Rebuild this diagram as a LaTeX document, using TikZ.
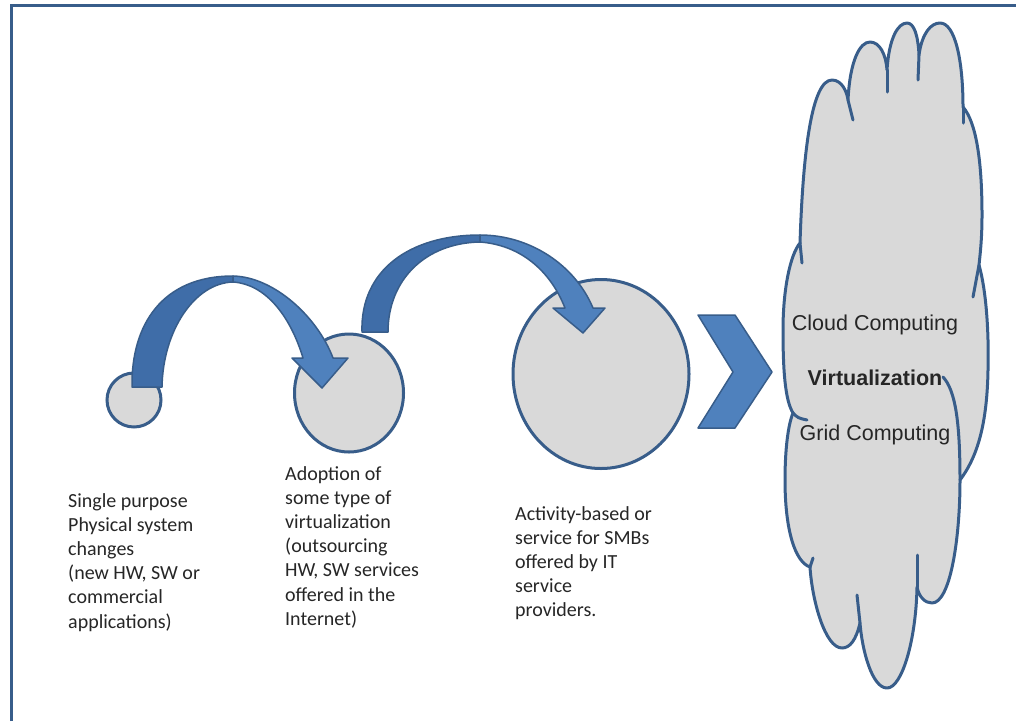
\documentclass[tikz,border=0pt]{standalone}
\usepackage{fontspec}
\setmainfont{Carlito}
\newfontfamily\cloudfont{Liberation Sans}
\usetikzlibrary{shapes.geometric}

\definecolor{frameblue}{HTML}{385D8A}
\definecolor{arrowfront}{HTML}{4F81BD}
\definecolor{arrowback}{HTML}{3F6DA8}
\definecolor{bubblegray}{HTML}{D9D9D9}

\tikzset{
	bubble/.style={ellipse, draw=frameblue, fill=bubblegray, line width=3pt, inner sep=0pt},
	backpart/.style={fill=arrowback, draw=frameblue, line width=1.5pt, line join=round},
	frontpart/.style={fill=arrowfront, draw=frameblue, line width=1.5pt, line join=round},
	cloudline/.style={draw=frameblue, line width=3pt, line join=round, line cap=round},
	caption/.style={anchor=north west, align=left, inner sep=0pt, text=black!85, font=\fontsize{20}{24.2}\selectfont},
	cloudtext/.style={anchor=base, inner sep=0pt, text=black!85, font=\cloudfont\fontsize{21.5}{25}\selectfont}
}

\begin{document}
\begin{tikzpicture}[x=1pt, y=-1pt]
	\useasboundingbox (0,0) rectangle (1016,721);

	% frame on top and left
	\draw[frameblue, line width=3.5pt] (11.5,721) -- (11.5,5.5) -- (1016,5.5);

	% the three stages
	\node[bubble, minimum width=54pt, minimum height=54pt] (single) at (134,400) {};
	\node[bubble, minimum width=109pt, minimum height=118pt] (adopt) at (349,393) {};
	\node[bubble, minimum width=176pt, minimum height=189pt] (service) at (601,374) {};

	% first curved arrow
	\filldraw[backpart] (132,387) .. controls (131,325) and (162,276) .. (233,276) -- (233,282) .. controls (195,283) and (163,330) .. (162,387) -- cycle;
	\filldraw[frontpart] (233,276) .. controls (275,277) and (318,318) .. (333,358) -- (348,358) -- (322,388) -- (292,358) -- (303,358) .. controls (290,315) and (265,284) .. (233,282) -- cycle;

	% second curved arrow
	\filldraw[backpart] (362,332) .. controls (360,270) and (410,235) .. (480,235) -- (480,242) .. controls (425,243) and (388,280) .. (388,332) -- cycle;
	\filldraw[frontpart] (480,235) .. controls (530,235) and (575,265) .. (593,308) -- (605,308) -- (583,333) -- (553,308) -- (565,308) .. controls (550,270) and (520,245) .. (480,242) -- cycle;

	% chevron
	\filldraw[frontpart] (698,315) -- (735,315) -- (772,372) -- (735,428) -- (698,428) -- (733,372) -- cycle;

	% cloud, lobe by lobe
	\filldraw[cloudline, fill=bubblegray]
		(800,243) .. controls (803,150) and (812,80) .. (832,80) .. controls (842,80) and (847,92) .. (848,100)
		.. controls (850,60) and (860,42) .. (870,42) .. controls (880,42) and (886,55) .. (887,70)
		.. controls (889,38) and (898,23) .. (907,23) .. controls (914,23) and (918,35) .. (919,55)
		.. controls (922,33) and (931,23) .. (940,23) .. controls (955,23) and (963,60) .. (963,107)
		.. controls (976,122) and (982,160) .. (982,215) .. controls (982,240) and (980,255) .. (979,265)
		.. controls (986,290) and (989,330) .. (988,370) .. controls (987,430) and (975,460) .. (960,480)
		.. controls (960,540) and (950,603) .. (932,603) .. controls (925,603) and (919,597) .. (917,587)
		.. controls (916,640) and (902,688) .. (887,688) .. controls (872,688) and (862,650) .. (860,623)
		.. controls (856,640) and (850,648) .. (842,648) .. controls (825,648) and (812,600) .. (810,567)
		.. controls (795,562) and (785,530) .. (785,480) .. controls (785,450) and (788,425) .. (793,413)
		.. controls (785,400) and (783,370) .. (783,330) .. controls (783,290) and (790,255) .. (800,243)
		-- cycle;
	% inner strokes of the cloud
	\draw[cloudline] (848,100) .. controls (850,108) .. (853,120);
	\draw[cloudline] (887,70) -- (887,92);
	\draw[cloudline] (919,55) -- (918,80);
	\draw[cloudline] (963,107) -- (963,123);
	\draw[cloudline] (800,243) -- (802,263);
	\draw[cloudline] (979,265) -- (973,297);
	\draw[cloudline] (793,413) .. controls (798,418) .. (807,420);
	\draw[cloudline] (960,480) .. controls (960,420) and (955,390) .. (943,377);
	\draw[cloudline] (917,587) -- (917,555);
	\draw[cloudline] (860,623) -- (857,595);
	\draw[cloudline] (810,567) -- (813,558);

	% texts inside the cloud
	\node[cloudtext] (cloudtxt) at (875,330) {Cloud Computing};
	\node[cloudtext, font=\cloudfont\bfseries\fontsize{21.5}{25}\selectfont] (virttxt) at (875,385) {Virtualization};
	\node[cloudtext] (gridtxt) at (875,440) {Grid Computing};

	% captions below the stages
	\node[caption] (singletxt) at (68,493) {Single purpose\\Physical system\\changes\\(new HW, SW or\\commercial\\applications)};
	\node[caption] (adopttxt) at (285,466) {Adoption of\\some type of\\virtualization\\(outsourcing\\HW, SW services\\offered in the\\Internet)};
	\node[caption] (servicetxt) at (515,506) {Activity-based or\\service for SMBs\\offered by IT\\service\\providers.};
\end{tikzpicture}
\end{document}
